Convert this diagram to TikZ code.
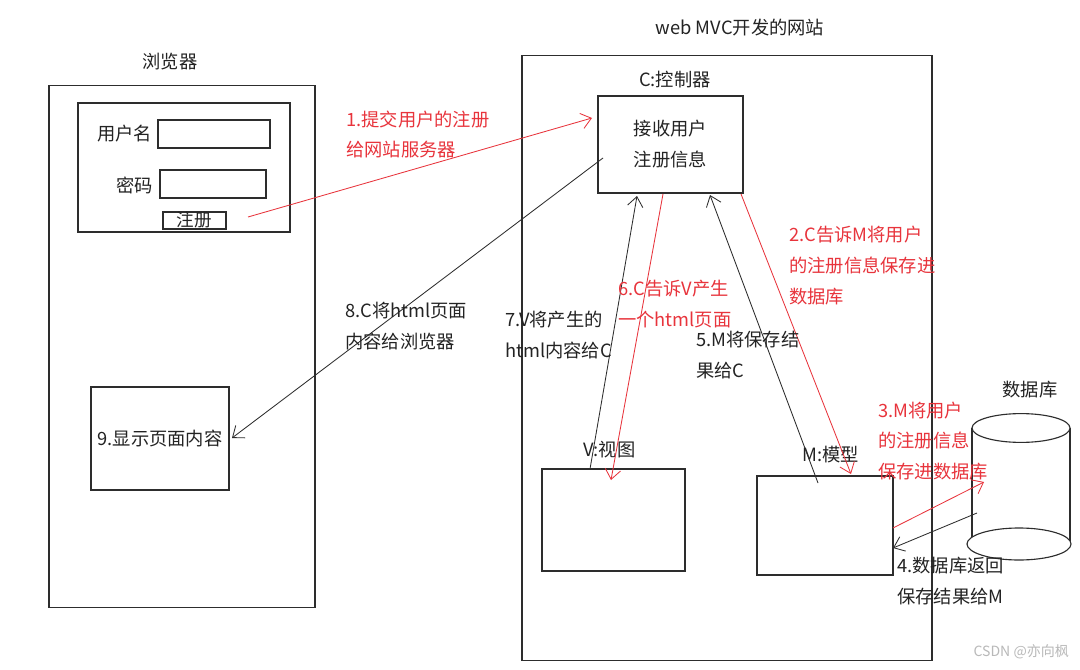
\documentclass[tikz,border=0pt]{standalone}
\usepackage{fontspec}
\setmainfont{Noto Sans CJK SC}
\usetikzlibrary{arrows.meta}
\definecolor{inkgray}{RGB}{45,45,45}
\definecolor{textgray}{RGB}{35,35,35}
\definecolor{penred}{RGB}{232,52,60}
\begin{document}
\begin{tikzpicture}[
        x=0.025cm, y=-0.025cm,
        box/.style={draw=inkgray, line width=0.8pt, inner sep=0pt},
        label text/.style={align=left, anchor=west, inner sep=0pt},
        red label/.style={label text, text=penred},
        pile/.style={draw=inkgray, line width=0.6pt,
            -{Straight Barb[length=7pt,width=11pt]}},
        red pile/.style={pile, draw=penred},
        every node/.style={text=textgray, font=\fontsize{13}{22}\selectfont}
        ]
        % page
        \fill[white] (0,0) rectangle (1080,670);
        \useasboundingbox (0,0) rectangle (1080,670);
        % Browser
        \node (browsertitle) at (170,62) {浏览器};
        \node[box, minimum width=6.65cm, minimum height=13.025cm] (browser) at (182,346.5) {};
        \node[box, minimum width=5.3cm, minimum height=3.225cm] (form) at (184,167.5) {};
        \node[label text] (username) at (97,134) {用户名};
        \node[box, minimum width=2.8cm, minimum height=0.7cm] (userfield) at (214,134) {};
        \node[label text] (password) at (116,185) {密码};
        \node[box, minimum width=2.65cm, minimum height=0.7cm] (passfield) at (213,184) {};
        \node[box, minimum width=1.575cm, minimum height=0.425cm, text height=9pt, text depth=1pt,
            font=\fontsize{12.5}{14}\selectfont] (register) at (194.5,220.5) {注册};
        \node[box, minimum width=3.45cm, minimum height=2.575cm] (display) at (160,438.5) {9.显示页面内容};
        % Web site
        \node (sitetitle) at (740,28) {web MVC开发的网站};
        \node[box, minimum width=10.25cm, minimum height=15.1cm] (site) at (727,358) {};
        \node (ctrltitle) at (675,80) {C:控制器};
        \node[box, align=center, minimum width=3.625cm, minimum height=2.425cm] (ctrl) at (670.5,144.5) {接收用户\\注册信息};
        \node[label text] (viewtitle) at (583,450) {V:视图};
        \node[box, minimum width=3.575cm, minimum height=2.55cm] (view) at (613.5,520) {};
        \node[label text] (modeltitle) at (802,455) {M:模型};
        \node[box, minimum width=3.4cm, minimum height=2.475cm] (model) at (825,525.5) {};
        % Database
        \node (dbtitle) at (1030,390) {数据库};
        \draw[inkgray, line width=0.8pt] (972,428) -- (972,544);
        \draw[inkgray, line width=0.8pt] (1070,428) -- (1070,544);
        \draw[inkgray, line width=0.8pt, fill=white] (1021,428) ellipse [x radius=1.225cm, y radius=0.36cm];
        \draw[inkgray, line width=0.8pt, fill=white] (1019,544) ellipse [x radius=1.3cm, y radius=0.4cm];
        % Ends of the arrows
        \coordinate (submit) at (248,217);
        \coordinate (ctrlin) at (592,118);
        \coordinate (ctrlout) at (603,158);
        \coordinate (showin) at (232,438);
        \coordinate (viewout) at (590,469);
        \coordinate (ctrlv) at (637,196);
        \coordinate (ctrltov) at (663,194);
        \coordinate (viewin) at (611,480);
        \coordinate (modelout) at (818,483);
        \coordinate (ctrlm) at (710,195);
        \coordinate (ctrltom) at (741,194);
        \coordinate (modelin) at (851,474);
        \coordinate (modelsave) at (893,528);
        \coordinate (dbin) at (984,482);
        \coordinate (dbout) at (977,513);
        \coordinate (modelback) at (893,548);
        % Arrows
        \draw[red pile] (submit) -- (ctrlin);
        \draw[pile] (ctrlout) -- (showin);
        \draw[pile] (viewout) -- (ctrlv);
        \draw[red pile] (ctrltov) -- (viewin);
        \draw[pile] (modelout) -- (ctrlm);
        \draw[red pile] (ctrltom) -- (modelin);
        \draw[red pile] (modelsave) -- (dbin);
        \draw[pile] (dbout) -- (modelback);
        % Labels
        \node[red label] (step1) at (346,134.5) {1.提交用户的注册\\给网站服务器};
        \node[red label] (step2) at (789,265.5) {2.C告诉M将用户\\的注册信息保存进\\数据库};
        \node[red label] (step3) at (878,441) {3.M将用户\\的注册信息\\保存进数据库};
        \node[label text] (step4) at (897,581) {4.数据库返回\\保存结果给M};
        \node[label text] (step5) at (696,355.5) {5.M将保存结\\果给C};
        \node[red label] (step6) at (618,304.5) {6.C告诉V产生\\一个html页面};
        \node[label text] (step7) at (505,335.5) {7.V将产生的\\html内容给C};
        \node[label text] (step8) at (345,326) {8.C将html页面\\内容给浏览器};
        % Mark
        \node[anchor=east, text=gray!55, font=\fontsize{10}{12}\selectfont] (mark) at (1074,652) {CSDN @亦向枫};
    \end{tikzpicture}
\end{document}
